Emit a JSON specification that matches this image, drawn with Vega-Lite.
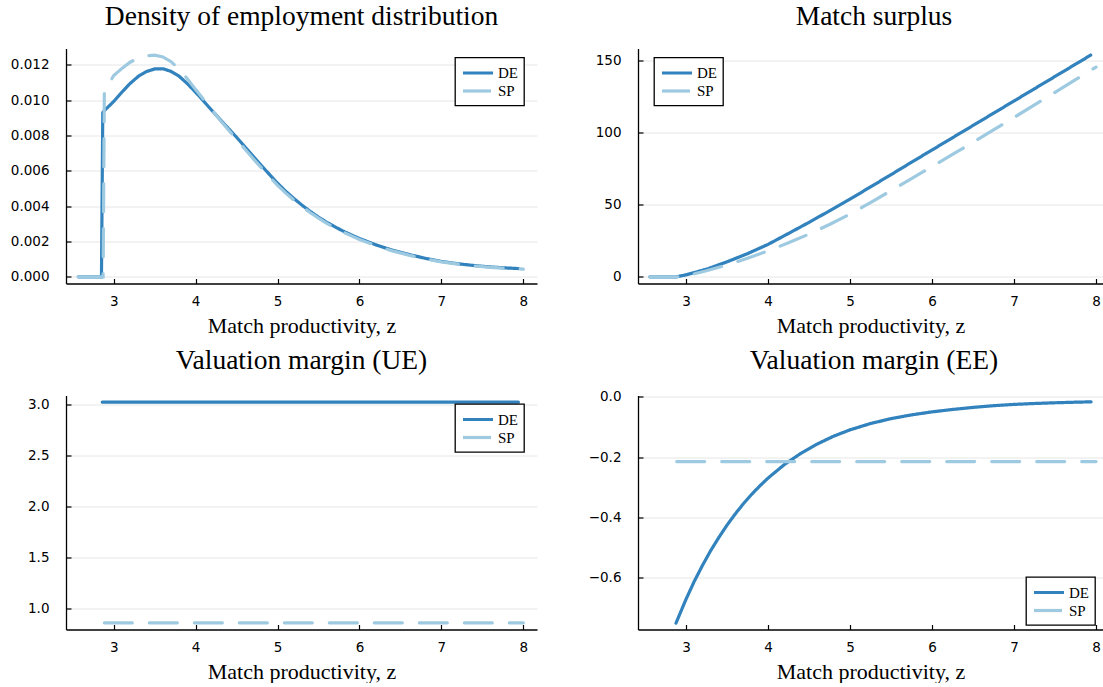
{
  "$schema": "https://vega.github.io/schema/vega-lite/v6.json",
  "padding": {"left": 10, "top": 2.5, "right": 0, "bottom": 0},
  "background": "white",
  "config": {
    "view": {"stroke": null},
    "font": "DejaVu Sans",
    "axis": {
      "domainColor": "black", "domainWidth": 1.3,
      "tickColor": "black", "tickSize": -5, "tickWidth": 1.2,
      "labelFont": "DejaVu Sans", "labelFontSize": 13.5, "labelColor": "black", "labelFlush": false,
      "titleFont": "Liberation Serif", "titleFontSize": 22, "titleFontWeight": "normal", "titleColor": "black",
      "gridColor": "#e6e6e6", "gridWidth": 1
    },
    "axisX": {"grid": false, "labelPadding": 16, "titlePadding": 7.5},
    "axisY": {"grid": true, "labelPadding": 22},
    "title": {"font": "Liberation Serif", "fontSize": 27.5, "fontWeight": "normal", "color": "black", "anchor": "middle", "baseline": "alphabetic", "offset": 18.5, "frame": "group"},
    "legend": {
      "title": null, "orient": "none", "strokeColor": "black", "strokeWidth": 1.3, "fillColor": "white", "padding": 6,
      "symbolType": "M -1 0 L 3 0", "symbolSize": 225, "symbolStrokeWidth": 3.2,
      "labelFont": "Liberation Serif", "labelFontSize": 15, "labelColor": "black", "labelOffset": 18, "rowPadding": -5
    },
    "line": {"strokeWidth": 3.2, "strokeCap": "round", "clip": true}
  },
  "datasets": {
    "p1": [
      {"s": "DE", "z": 2.567, "v": 0}, {"s": "DE", "z": 2.85, "v": 0}, {"s": "DE", "z": 2.866, "v": 0.0093},
      {"s": "DE", "z": 2.9, "v": 0.00948}, {"s": "DE", "z": 3.0, "v": 0.00993}, {"s": "DE", "z": 3.1, "v": 0.01046},
      {"s": "DE", "z": 3.2, "v": 0.01095}, {"s": "DE", "z": 3.3, "v": 0.01135}, {"s": "DE", "z": 3.4, "v": 0.01162},
      {"s": "DE", "z": 3.5, "v": 0.01177}, {"s": "DE", "z": 3.6, "v": 0.01178}, {"s": "DE", "z": 3.7, "v": 0.01163},
      {"s": "DE", "z": 3.8, "v": 0.01135}, {"s": "DE", "z": 3.9, "v": 0.01093}, {"s": "DE", "z": 4.0, "v": 0.01045},
      {"s": "DE", "z": 4.1, "v": 0.00993}, {"s": "DE", "z": 4.2, "v": 0.00941}, {"s": "DE", "z": 4.3, "v": 0.0089},
      {"s": "DE", "z": 4.4, "v": 0.0084}, {"s": "DE", "z": 4.5, "v": 0.0079}, {"s": "DE", "z": 4.6, "v": 0.00737},
      {"s": "DE", "z": 4.7, "v": 0.00684}, {"s": "DE", "z": 4.8, "v": 0.00632}, {"s": "DE", "z": 4.9, "v": 0.0058},
      {"s": "DE", "z": 5.0, "v": 0.0053}, {"s": "DE", "z": 5.1, "v": 0.00484}, {"s": "DE", "z": 5.2, "v": 0.00443},
      {"s": "DE", "z": 5.3, "v": 0.00405}, {"s": "DE", "z": 5.4, "v": 0.0037}, {"s": "DE", "z": 5.5, "v": 0.00338},
      {"s": "DE", "z": 5.6, "v": 0.00309}, {"s": "DE", "z": 5.7, "v": 0.00283}, {"s": "DE", "z": 5.8, "v": 0.00259},
      {"s": "DE", "z": 5.9, "v": 0.00237}, {"s": "DE", "z": 6.0, "v": 0.00217}, {"s": "DE", "z": 6.2, "v": 0.00181},
      {"s": "DE", "z": 6.4, "v": 0.00151}, {"s": "DE", "z": 6.6, "v": 0.00127}, {"s": "DE", "z": 6.8, "v": 0.00105},
      {"s": "DE", "z": 7.0, "v": 0.00087}, {"s": "DE", "z": 7.2, "v": 0.00074}, {"s": "DE", "z": 7.4, "v": 0.00064},
      {"s": "DE", "z": 7.6, "v": 0.00056}, {"s": "DE", "z": 7.8, "v": 0.0005}, {"s": "DE", "z": 7.94, "v": 0.00047},
      {"s": "SP", "z": 2.567, "v": 0}, {"s": "SP", "z": 2.87, "v": 0}, {"s": "SP", "z": 2.885, "v": 0.0105},
      {"s": "SP", "z": 3.0, "v": 0.0114}, {"s": "SP", "z": 3.1, "v": 0.0118}, {"s": "SP", "z": 3.2, "v": 0.01215},
      {"s": "SP", "z": 3.3, "v": 0.0124}, {"s": "SP", "z": 3.4, "v": 0.01252}, {"s": "SP", "z": 3.5, "v": 0.01255},
      {"s": "SP", "z": 3.6, "v": 0.01245}, {"s": "SP", "z": 3.7, "v": 0.01218}, {"s": "SP", "z": 3.8, "v": 0.01175},
      {"s": "SP", "z": 3.9, "v": 0.0112}, {"s": "SP", "z": 4.0, "v": 0.0106}, {"s": "SP", "z": 4.1, "v": 0.01003},
      {"s": "SP", "z": 4.2, "v": 0.00945}, {"s": "SP", "z": 4.3, "v": 0.00886}, {"s": "SP", "z": 4.4, "v": 0.00832},
      {"s": "SP", "z": 4.5, "v": 0.00778}, {"s": "SP", "z": 4.6, "v": 0.00724}, {"s": "SP", "z": 4.7, "v": 0.0067},
      {"s": "SP", "z": 4.8, "v": 0.00618}, {"s": "SP", "z": 4.9, "v": 0.00567}, {"s": "SP", "z": 5.0, "v": 0.00518},
      {"s": "SP", "z": 5.1, "v": 0.00474}, {"s": "SP", "z": 5.2, "v": 0.00434}, {"s": "SP", "z": 5.3, "v": 0.00397},
      {"s": "SP", "z": 5.4, "v": 0.00363}, {"s": "SP", "z": 5.5, "v": 0.00332}, {"s": "SP", "z": 5.6, "v": 0.00303},
      {"s": "SP", "z": 5.7, "v": 0.00277}, {"s": "SP", "z": 5.8, "v": 0.00253}, {"s": "SP", "z": 5.9, "v": 0.00232},
      {"s": "SP", "z": 6.0, "v": 0.00212}, {"s": "SP", "z": 6.2, "v": 0.00177}, {"s": "SP", "z": 6.4, "v": 0.00147},
      {"s": "SP", "z": 6.6, "v": 0.00123}, {"s": "SP", "z": 6.8, "v": 0.00102}, {"s": "SP", "z": 7.0, "v": 0.00085},
      {"s": "SP", "z": 7.2, "v": 0.00072}, {"s": "SP", "z": 7.4, "v": 0.00062}, {"s": "SP", "z": 7.6, "v": 0.00054},
      {"s": "SP", "z": 7.8, "v": 0.00048}, {"s": "SP", "z": 8.0, "v": 0.00044}
    ],
    "p2": [
      {"s": "DE", "z": 2.56, "v": 0}, {"s": "DE", "z": 2.88, "v": 0}, {"s": "DE", "z": 3.0, "v": 1.4},
      {"s": "DE", "z": 3.25, "v": 5.3}, {"s": "DE", "z": 3.5, "v": 10.4}, {"s": "DE", "z": 3.75, "v": 16.1},
      {"s": "DE", "z": 4.0, "v": 22.5}, {"s": "DE", "z": 4.25, "v": 30.1}, {"s": "DE", "z": 4.5, "v": 37.8},
      {"s": "DE", "z": 4.75, "v": 45.8}, {"s": "DE", "z": 5.0, "v": 53.9}, {"s": "DE", "z": 5.25, "v": 62.4},
      {"s": "DE", "z": 5.5, "v": 70.9}, {"s": "DE", "z": 5.75, "v": 79.5}, {"s": "DE", "z": 6.0, "v": 88.0},
      {"s": "DE", "z": 6.25, "v": 96.5}, {"s": "DE", "z": 6.5, "v": 105.0}, {"s": "DE", "z": 6.75, "v": 113.5},
      {"s": "DE", "z": 7.0, "v": 122.0}, {"s": "DE", "z": 7.25, "v": 130.5}, {"s": "DE", "z": 7.5, "v": 139.0},
      {"s": "DE", "z": 7.75, "v": 147.5}, {"s": "DE", "z": 7.935, "v": 153.8},
      {"s": "SP", "z": 2.56, "v": 0}, {"s": "SP", "z": 2.92, "v": 0}, {"s": "SP", "z": 3.0, "v": 0.7},
      {"s": "SP", "z": 3.25, "v": 4.2}, {"s": "SP", "z": 3.5, "v": 8.2}, {"s": "SP", "z": 3.75, "v": 12.9},
      {"s": "SP", "z": 4.0, "v": 18.0}, {"s": "SP", "z": 4.25, "v": 23.6}, {"s": "SP", "z": 4.5, "v": 29.7},
      {"s": "SP", "z": 4.75, "v": 36.3}, {"s": "SP", "z": 5.0, "v": 43.5}, {"s": "SP", "z": 5.25, "v": 51.5},
      {"s": "SP", "z": 5.5, "v": 59.8}, {"s": "SP", "z": 5.75, "v": 68.1}, {"s": "SP", "z": 6.0, "v": 76.5},
      {"s": "SP", "z": 6.25, "v": 84.9}, {"s": "SP", "z": 6.5, "v": 93.4}, {"s": "SP", "z": 6.75, "v": 101.9},
      {"s": "SP", "z": 7.0, "v": 110.6}, {"s": "SP", "z": 7.25, "v": 119.3}, {"s": "SP", "z": 7.5, "v": 128.0},
      {"s": "SP", "z": 7.75, "v": 136.8}, {"s": "SP", "z": 8.0, "v": 145.5}
    ],
    "p3": [
      {"s": "DE", "z": 2.86, "v": 3.02}, {"s": "DE", "z": 7.94, "v": 3.02},
      {"s": "SP", "z": 2.885, "v": 0.859}, {"s": "SP", "z": 8.0, "v": 0.859}
    ],
    "p4": [
      {"s": "DE", "z": 2.878, "v": -0.751}, {"s": "DE", "z": 3.0, "v": -0.672}, {"s": "DE", "z": 3.1, "v": -0.613},
      {"s": "DE", "z": 3.2, "v": -0.56}, {"s": "DE", "z": 3.3, "v": -0.511}, {"s": "DE", "z": 3.4, "v": -0.467},
      {"s": "DE", "z": 3.5, "v": -0.426}, {"s": "DE", "z": 3.6, "v": -0.389}, {"s": "DE", "z": 3.7, "v": -0.355},
      {"s": "DE", "z": 3.8, "v": -0.324}, {"s": "DE", "z": 3.9, "v": -0.296}, {"s": "DE", "z": 4.0, "v": -0.27},
      {"s": "DE", "z": 4.2, "v": -0.225}, {"s": "DE", "z": 4.4, "v": -0.188}, {"s": "DE", "z": 4.6, "v": -0.157},
      {"s": "DE", "z": 4.8, "v": -0.131}, {"s": "DE", "z": 5.0, "v": -0.11}, {"s": "DE", "z": 5.25, "v": -0.089},
      {"s": "DE", "z": 5.5, "v": -0.0728}, {"s": "DE", "z": 5.75, "v": -0.0603}, {"s": "DE", "z": 6.0, "v": -0.0503},
      {"s": "DE", "z": 6.25, "v": -0.0423}, {"s": "DE", "z": 6.5, "v": -0.0355}, {"s": "DE", "z": 6.75, "v": -0.0298},
      {"s": "DE", "z": 7.0, "v": -0.0256}, {"s": "DE", "z": 7.25, "v": -0.0225}, {"s": "DE", "z": 7.5, "v": -0.0201},
      {"s": "DE", "z": 7.75, "v": -0.0182}, {"s": "DE", "z": 7.94, "v": -0.017},
      {"s": "SP", "z": 2.887, "v": -0.215}, {"s": "SP", "z": 8.0, "v": -0.215}
    ]
  },
  "spacing": 347,
  "bounds": "flush",
  "resolve": {"scale": {"color": "independent", "strokeDash": "independent"}, "legend": {"color": "independent", "strokeDash": "independent"}},
  "vconcat": [
    {
      "spacing": 101,
      "bounds": "flush",
      "resolve": {"scale": {"color": "independent", "strokeDash": "independent"}, "legend": {"color": "independent", "strokeDash": "independent"}},
      "hconcat": [
        {
          "width": 471, "height": 235,
          "title": {"text": "Density of employment distribution"},
          "data": {"name": "p1"},
          "mark": {"type": "line"},
          "encoding": {
            "x": {"field": "z", "type": "quantitative", "scale": {"domain": [2.417, 8.167], "nice": false, "zero": false}, "axis": {"values": [3, 4, 5, 6, 7, 8], "title": "Match productivity, z"}},
            "y": {"field": "v", "type": "quantitative", "scale": {"domain": [-0.000377, 0.012927], "nice": false, "zero": false}, "axis": {"values": [0, 0.002, 0.004, 0.006, 0.008, 0.01, 0.012], "format": ".3f", "title": null}},
            "color": {"field": "s", "type": "nominal", "scale": {"domain": ["DE", "SP"], "range": ["#3182bd", "#9ecae1"]}, "legend": {"legendX": 389, "legendY": 9}},
            "strokeDash": {"field": "s", "type": "nominal", "scale": {"domain": ["DE", "SP"], "range": [[1, 0], [28, 17]]}, "legend": null}
          }
        },
        {
          "width": 465, "height": 235,
          "title": {"text": "Match surplus", "dx": 3.5},
          "data": {"name": "p2"},
          "mark": {"type": "line"},
          "encoding": {
            "x": {"field": "z", "type": "quantitative", "scale": {"domain": [2.415, 8.085], "nice": false, "zero": false}, "axis": {"values": [3, 4, 5, 6, 7, 8], "title": "Match productivity, z"}},
            "y": {"field": "v", "type": "quantitative", "scale": {"domain": [-4.6, 158.4], "nice": false, "zero": false}, "axis": {"values": [0, 50, 100, 150], "format": "d", "title": null}},
            "color": {"field": "s", "type": "nominal", "scale": {"domain": ["DE", "SP"], "range": ["#3182bd", "#9ecae1"]}, "legend": {"legendX": 16, "legendY": 9}},
            "strokeDash": {"field": "s", "type": "nominal", "scale": {"domain": ["DE", "SP"], "range": [[1, 0], [28, 17]]}, "legend": null}
          }
        }
      ]
    },
    {
      "spacing": 101,
      "bounds": "flush",
      "resolve": {"scale": {"color": "independent", "strokeDash": "independent"}, "legend": {"color": "independent", "strokeDash": "independent"}},
      "hconcat": [
        {
          "width": 471, "height": 234,
          "title": {"text": "Valuation margin (UE)", "offset": 21},
          "data": {"name": "p3"},
          "mark": {"type": "line"},
          "encoding": {
            "x": {"field": "z", "type": "quantitative", "scale": {"domain": [2.417, 8.167], "nice": false, "zero": false}, "axis": {"values": [3, 4, 5, 6, 7, 8], "title": "Match productivity, z"}},
            "y": {"field": "v", "type": "quantitative", "scale": {"domain": [0.794, 3.085], "nice": false, "zero": false}, "axis": {"values": [1.0, 1.5, 2.0, 2.5, 3.0], "format": ".1f", "title": null}},
            "color": {"field": "s", "type": "nominal", "scale": {"domain": ["DE", "SP"], "range": ["#3182bd", "#9ecae1"]}, "legend": {"legendX": 389, "legendY": 8.5}},
            "strokeDash": {"field": "s", "type": "nominal", "scale": {"domain": ["DE", "SP"], "range": [[1, 0], [28, 17]]}, "legend": null}
          }
        },
        {
          "width": 465, "height": 234,
          "title": {"text": "Valuation margin (EE)", "dx": 3.5, "offset": 15},
          "data": {"name": "p4"},
          "mark": {"type": "line"},
          "encoding": {
            "x": {"field": "z", "type": "quantitative", "scale": {"domain": [2.415, 8.085], "nice": false, "zero": false}, "axis": {"values": [3, 4, 5, 6, 7, 8], "title": "Match productivity, z"}},
            "y": {"field": "v", "type": "quantitative", "scale": {"domain": [-0.772, 0.004], "nice": false, "zero": false}, "axis": {"values": [-0.6, -0.4, -0.2, 0.0], "format": ".1f", "title": null}},
            "color": {"field": "s", "type": "nominal", "scale": {"domain": ["DE", "SP"], "range": ["#3182bd", "#9ecae1"]}, "legend": {"legendX": 388, "legendY": 181.5}},
            "strokeDash": {"field": "s", "type": "nominal", "scale": {"domain": ["DE", "SP"], "range": [[1, 0], [28, 17]]}, "legend": null}
          }
        }
      ]
    }
  ]
}
